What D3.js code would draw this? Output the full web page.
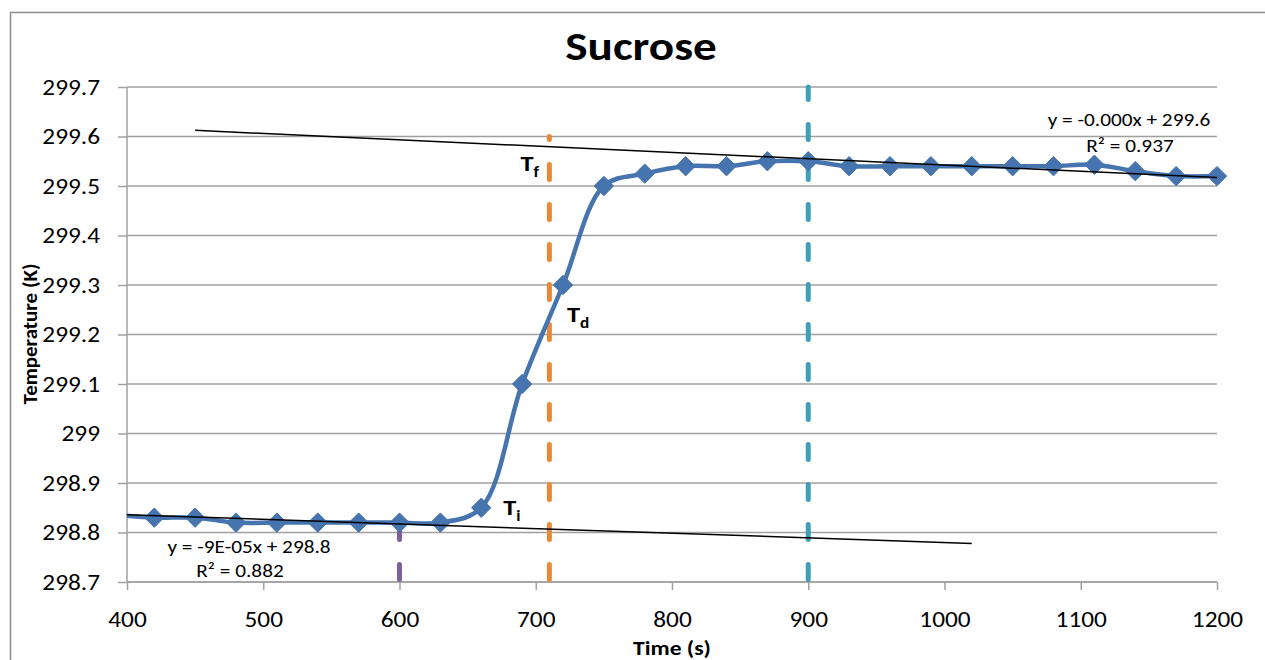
<!DOCTYPE html>
<html>
<head>
<meta charset="utf-8">
<script src="https://cdn.jsdelivr.net/npm/d3@7"></script>
<style>
  html, body { margin: 0; padding: 0; background: #fff; }
  svg { display: block; font-family: Carlito, Calibri, Lato, sans-serif; }
</style>
</head>
<body>
<svg id="chart" width="1265" height="660"></svg>
<script>
// ---- data ----
const times = [390, 420, 450, 480, 510, 540, 570, 600, 630, 660, 690, 720, 750, 780, 810, 840, 870, 900, 930, 960, 990, 1020, 1050, 1080, 1110, 1140, 1170, 1200];
const temps = [298.836, 298.83, 298.83, 298.82, 298.82, 298.82, 298.82, 298.82, 298.82, 298.85, 299.1, 299.3, 299.5, 299.525, 299.54, 299.54, 299.55, 299.55, 299.54, 299.54, 299.54, 299.54, 299.54, 299.54, 299.543, 299.53, 299.52, 299.52];
const xTicks = [400, 500, 600, 700, 800, 900, 1000, 1100, 1200];
const yTicks = [298.7, 298.8, 298.9, 299, 299.1, 299.2, 299.3, 299.4, 299.5, 299.6, 299.7];
const trendUpper = [[450, 299.6125], [1200, 299.517]];
const trendLower = [[400, 298.836], [1020, 298.778]];
const upperEqn = ["y = -0.000x + 299.6", "R² = 0.937"];
const lowerEqn = ["y = -9E-05x + 298.8", "R² = 0.882"];
const markerLines = [
  { x: 600, top: 298.82, color: "#7F5FA0" },
  { x: 710, top: 299.6, color: "#E8893A" },
  { x: 900, top: 299.7, color: "#3F9FB7" }
];
const tLabels = [
  { main: "T", sub: "f" },
  { main: "T", sub: "d" },
  { main: "T", sub: "i" }
];

// ---- layout ----
const W = 1265, H = 660;
const SX = 1.15; // horizontal stretch of glyphs
const m = { left: 127, right: 48, top: 87, bottom: 78 };
const svg = d3.select("#chart");

const x = d3.scaleLinear().domain([400, 1200]).range([m.left, W - m.right]);
const y = d3.scaleLinear().domain([298.7, 299.7]).range([H - m.bottom, m.top]);

function addText(px, py, str, size, anchor, weight) {
  return svg.append("text")
    .attr("transform", `translate(${px},${py}) scale(${SX},1)`)
    .attr("text-anchor", anchor || "start")
    .attr("font-size", size)
    .attr("font-weight", weight || "normal")
    .attr("fill", "#000")
    .text(str);
}

// outer border
svg.append("rect").attr("x", 10.5).attr("y", 12.5).attr("width", 1262).attr("height", 660)
  .attr("fill", "none").attr("stroke", "#8c8c8c").attr("stroke-width", 1.5);

// title
addText(641, 60, "Sucrose", 41, "middle", "bold");

// gridlines
svg.append("g").selectAll("line").data(yTicks).join("line")
  .attr("x1", x(400)).attr("x2", x(1200))
  .attr("y1", d => y(d)).attr("y2", d => y(d))
  .attr("stroke", "#a0a0a0").attr("stroke-width", 1.5);

// y axis
const yAxis = d3.axisLeft(y).tickValues(yTicks).tickSize(9).tickPadding(18)
  .tickFormat(d => String(+d.toFixed(1)));
const gy = svg.append("g").attr("transform", `translate(${x(400)},0)`).call(yAxis);
gy.selectAll("path,line").attr("stroke", "#a0a0a0").attr("stroke-width", 1.5);
gy.select(".domain").attr("d", `M0,${y(298.7)}V${y(299.7)}`);
gy.selectAll("text").attr("font-size", 22).attr("fill", "#000")
  .attr("font-family", "Carlito, Calibri, Lato, sans-serif")
  .attr("x", -27 / SX).attr("transform", `scale(${SX},1)`);

// x axis
const xAxis = d3.axisBottom(x).tickValues(xTicks).tickSize(8).tickPadding(21).tickFormat(d3.format("d"));
const gx = svg.append("g").attr("transform", `translate(0,${y(298.7)})`).call(xAxis);
gx.selectAll("path,line").attr("stroke", "#a0a0a0").attr("stroke-width", 1.5);
gx.select(".domain").attr("d", `M${x(400)},0H${x(1200)}`);
gx.selectAll("text").attr("font-size", 22).attr("fill", "#000")
  .attr("font-family", "Carlito, Calibri, Lato, sans-serif")
  .attr("transform", `scale(${SX},1)`);

// axis titles
addText(672, 655, "Time (s)", 20.5, "middle", "bold");
svg.append("text").attr("transform", "translate(37,334) rotate(-90)").attr("text-anchor", "middle")
  .attr("font-size", 21).attr("font-weight", "bold").text("Temperature (K)");

// clip
svg.append("clipPath").attr("id", "plot").append("rect")
  .attr("x", x(400)).attr("y", y(299.7) - 20).attr("width", x(1200) - x(400) + 20).attr("height", y(298.7) - y(299.7) + 20);

// vertical dashed lines (drawn from bottom up)
svg.append("g").selectAll("line").data(markerLines).join("line")
  .attr("x1", d => x(d.x)).attr("x2", d => x(d.x))
  .attr("y1", y(298.7)).attr("y2", d => y(d.top))
  .attr("stroke", d => d.color).attr("stroke-width", 5)
  .attr("stroke-linecap", "round").attr("stroke-dasharray", "15,25").attr("stroke-dashoffset", -2.5);

// data series
const pts = times.map((t, i) => [t, temps[i]]);
const line = d3.line().x(d => x(d[0])).y(d => y(d[1])).curve(d3.curveCatmullRom.alpha(0.5));
svg.append("path").datum(pts).attr("d", line).attr("clip-path", "url(#plot)")
  .attr("fill", "none").attr("stroke", "#4674AE").attr("stroke-width", 4.5);

const diamond = d3.symbol().type(d3.symbolDiamond2).size(240);
svg.append("g").selectAll("path").data(pts.filter(d => d[0] >= 400)).join("path")
  .attr("transform", d => `translate(${x(d[0])},${y(d[1])})`)
  .attr("d", diamond).attr("fill", "#4674AE").attr("stroke", "#4674AE").attr("stroke-width", 1);

// trendlines
[trendUpper, trendLower].forEach(tl => {
  svg.append("line")
    .attr("x1", x(tl[0][0])).attr("y1", y(tl[0][1]))
    .attr("x2", x(tl[1][0])).attr("y2", y(tl[1][1]))
    .attr("stroke", "#000").attr("stroke-width", 1.5);
});

// trendline equations
addText(1129, 126, upperEqn[0], 18.5, "middle");
addText(1130, 152, upperEqn[1], 18.5, "middle");
addText(249, 553, lowerEqn[0], 18.5, "middle");
addText(240, 577, lowerEqn[1], 18.5, "middle");

// T labels, anchored to their reference lines/points
const tPos = [
  [x(710) - 29, y(299.6) + 34],
  [x(720) + 4, y(299.3) + 36.5],
  [x(660) + 22, y(298.85) + 7]
];
tLabels.forEach((l, i) => {
  const t = addText(tPos[i][0], tPos[i][1], null, 23, "start", "bold");
  t.append("tspan").text(l.main);
  t.append("tspan").attr("dy", 6).attr("font-size", 15).text(l.sub);
});
</script>
</body>
</html>
